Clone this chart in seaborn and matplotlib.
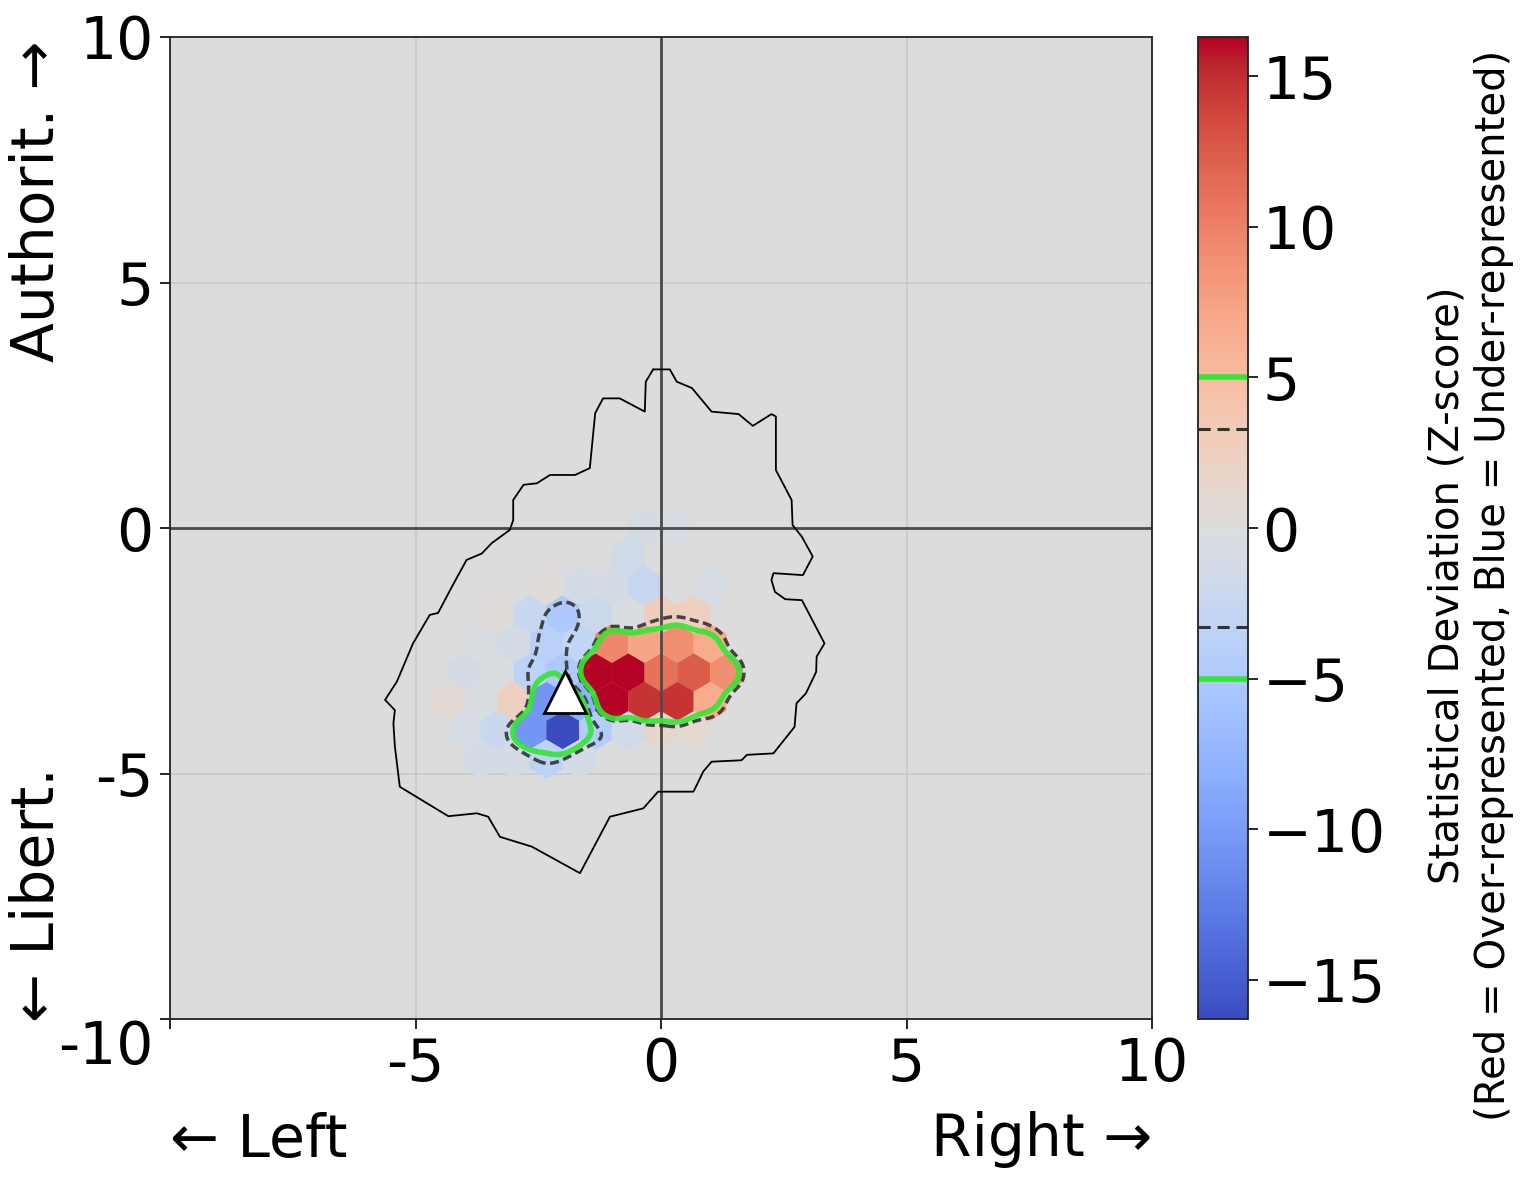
import numpy as np
import matplotlib
matplotlib.use("Agg")
import matplotlib.pyplot as plt
import seaborn as sns

# Hex cells: centre x, centre y and z-score (row by row)
cell_x = [-0.33, 0.33,
          -0.67,
          -2.33, -1.67, -1.0, -0.33, 1.0,
          -3.33, -2.67, -2.0, -1.33, -0.67, 0.0, 0.67,
          -3.67, -3.0, -2.33, -1.67, -1.0, -0.33, 0.33, 1.0,
          -4.0, -3.33, -2.67, -2.0, -1.33, -0.67, 0.0, 0.67, 1.33,
          -4.33, -3.67, -3.0, -2.33, -1.67, -1.0, -0.33, 0.33, 1.0,
          -4.0, -3.33, -2.67, -2.0, -1.33, -0.67, 0.0, 0.67,
          -3.67, -3.0, -2.33, -1.67]
cell_y = [0.0, 0.0,
          -0.59,
          -1.18, -1.18, -1.18, -1.18, -1.18,
          -1.76, -1.76, -1.76, -1.76, -1.76, -1.76, -1.76,
          -2.35, -2.35, -2.35, -2.35, -2.35, -2.35, -2.35, -2.35,
          -2.94, -2.94, -2.94, -2.94, -2.94, -2.94, -2.94, -2.94, -2.94,
          -3.53, -3.53, -3.53, -3.53, -3.53, -3.53, -3.53, -3.53, -3.53,
          -4.12, -4.12, -4.12, -4.12, -4.12, -4.12, -4.12, -4.12,
          -4.71, -4.71, -4.71, -4.71]
cell_z = [-1.0, -0.6,
          -1.6,
          0.5, -1.2, -1.0, -2.6, -0.7,
          0.5, -2.4, -5.2, -2.0, -0.4, 2.8, 2.6,
          -0.4, -1.0, -3.9, -3.0, 9.5, 7.2, 9.0, 6.5,
          -1.0, -0.3, -3.6, -5.0, 16.3, 16.3, 11.0, 12.4, 9.0,
          0.8, -0.5, 2.5, -10.5, -8.0, 16.3, 14.7, 14.7, 6.5,
          -0.8, -2.2, -10.5, -16.3, -4.6, -1.5, 1.5, 1.0,
          -1.2, -1.2, -3.6, -1.2]

# Outline of the populated area
outline_x = [-0.16, 0.18, 0.32, 0.63, 1.03, 1.58, 1.87, 2.25, 2.34, 2.34, 2.66, 2.68,
             2.87, 3.09, 2.89, 2.29, 2.25, 2.32, 2.53, 2.87, 3.33, 3.17, 3.16, 2.95,
             2.76, 2.72, 2.29, 1.75, 1.64, 1.03, 0.86, 0.76, 0.66, -0.06, -0.36, -1.04,
             -1.65, -2.63, -3.28, -3.52, -3.75, -4.33, -5.32, -5.42, -5.45, -5.42, -5.62,
             -5.38, -5.05, -4.71, -4.54, -4.26, -3.96, -3.65, -3.45, -3.08, -3.01, -3.01,
             -2.80, -2.53, -2.26, -1.75, -1.45, -1.34, -1.18, -0.84, -0.33, -0.31, -0.16]
outline_y = [3.23, 3.23, 2.98, 2.85, 2.37, 2.32, 2.08, 2.32, 2.27, 1.18, 0.57, 0.06,
             -0.18, -0.58, -0.96, -0.92, -1.06, -1.30, -1.45, -1.47, -2.35, -2.62, -2.93, -3.37,
             -3.57, -4.05, -4.59, -4.62, -4.73, -4.76, -4.96, -5.17, -5.37, -5.37, -5.71, -5.88,
             -7.03, -6.49, -6.29, -5.88, -5.81, -5.87, -5.27, -4.45, -3.98, -3.71, -3.50,
             -3.13, -2.35, -1.77, -1.73, -1.20, -0.65, -0.52, -0.31, -0.04, 0.16, 0.57,
             0.88, 0.91, 1.08, 1.08, 1.22, 2.34, 2.64, 2.64, 2.37, 2.98, 3.23]

marker_x = [-1.95]
marker_y = [-3.33]

axis_ticks = [-10, -5, 0, 5, 10]
x_tick_labels = ['', '-5', '0', '5', '10']
y_tick_labels = ['-10', '-5', '0', '5', '10']
cbar_ticks = [-15, -10, -5, 0, 5, 10, 15]
dashed_levels = [-3.29, 3.29]
green_levels = [-5, 5]

sns.set_style("ticks")
plt.rcParams['font.family'] = ['DejaVu Sans']
plt.rcParams['text.color'] = 'black'
plt.rcParams['xtick.color'] = 'black'
plt.rcParams['ytick.color'] = 'black'

cmap = sns.color_palette("coolwarm", as_cmap=True)
zmax = np.abs(cell_z).max()
green = '#33e633'

fig = plt.figure(figsize=(15.32, 11.89), dpi=100)
ax = fig.add_axes([170 / 1532, 170 / 1189, 982 / 1532, 982 / 1189])
cax = fig.add_axes([1198 / 1532, 170 / 1189, 50 / 1532, 982 / 1189])

ax.set_facecolor('#dcdcdc')
ax.grid(True, color='#c9c9c9', lw=1.2, zorder=0)
ax.set_axisbelow(True)

hb = ax.hexbin(cell_x, cell_y, C=cell_z, gridsize=30, extent=(-10, 10, -10, 10),
               cmap=cmap, vmin=-zmax, vmax=zmax, reduce_C_function=np.mean,
               linewidths=0.2, edgecolors='face', zorder=1)

ax.axhline(0, color='#4a4a4a', lw=2, zorder=2)
ax.axvline(0, color='#4a4a4a', lw=2, zorder=2)

# smoothed z field for the significance contours (kernel average over the hex lattice,
# empty cells count as zero)
sx, sy = 20 / 30, 20 / 17
sigma = 0.27
gx, gy = np.meshgrid(np.linspace(-7, 5, 300), np.linspace(-8, 3, 300))
num = np.zeros_like(gx)
den = np.zeros_like(gx)
for cx, cy, cz in zip(cell_x, cell_y, cell_z):
    num += cz * np.exp(-((gx - cx) ** 2 + (gy - cy) ** 2) / (2 * sigma ** 2))
for i in range(31):
    for j in range(18):
        for lx, ly in ((-10 + i * sx, -10 + j * sy), (-10 + (i + .5) * sx, -10 + (j + .5) * sy)):
            if -8 < lx < 6 and -9 < ly < 4:
                den += np.exp(-((gx - lx) ** 2 + (gy - ly) ** 2) / (2 * sigma ** 2))
field = num / den

dash_style = (0, (2.6, 1.3))
cs_dash = ax.contour(gx, gy, field, levels=dashed_levels, colors='#333333',
                     linewidths=2.5, linestyles=[dash_style],
                     negative_linestyles=[dash_style], alpha=0.9, zorder=4)
cs_green = ax.contour(gx, gy, field, levels=green_levels, colors=green,
                      linewidths=4, linestyles='solid', negative_linestyles='solid',
                      alpha=0.9, zorder=5)

ax.plot(outline_x, outline_y, color='black', lw=1.3, zorder=3)
ax.plot(marker_x, marker_y, marker='^', markersize=30, markerfacecolor='white',
        markeredgecolor='black', markeredgewidth=2, linestyle='none', zorder=10)

ax.set_xlim(-10, 10)
ax.set_ylim(-10, 10)
ax.set_xticks(axis_ticks)
ax.set_xticklabels(x_tick_labels)
ax.set_yticks(axis_ticks)
ax.set_yticklabels(y_tick_labels)
ax.tick_params(labelsize=42, length=7, width=1.2, pad=5)
ax.get_yticklabels()[0].set_va('top')
for sp in ax.spines.values():
    sp.set_color('#222222')
    sp.set_linewidth(1.3)

cbar = fig.colorbar(hb, cax=cax)
cbar.set_ticks(cbar_ticks)
cbar.ax.tick_params(labelsize=42, length=7, width=1.2)
cbar.outline.set_edgecolor('#222222')
cbar.outline.set_linewidth(1.3)
for lev in green_levels:
    cbar.ax.axhline(lev, color=green, lw=4)
for lev in dashed_levels:
    cbar.ax.axhline(lev, color='#333333', lw=2.2, linestyle=(0, (4, 2.2)))

fig.text(1471 / 1532, 604 / 1189,
         'Statistical Deviation (Z-score)\n(Red = Over-represented, Blue = Under-represented)',
         rotation=90, ha='center', va='center', multialignment='center', fontsize=29)

fig.text(38 / 1532, 1 - 201 / 1189, 'Authorit. \u2192', rotation=90,
         ha='center', va='center', fontsize=42)
fig.text(38 / 1532, 1 - 895 / 1189, '\u2190 Libert.', rotation=90,
         ha='center', va='center', fontsize=42)
fig.text(170 / 1532, 1 - 1140 / 1189, '\u2190 Left', ha='left', va='center', fontsize=42)
fig.text(1152 / 1532, 1 - 1140 / 1189, 'Right \u2192', ha='right', va='center', fontsize=42)

fig.savefig('out.png', dpi=100)
